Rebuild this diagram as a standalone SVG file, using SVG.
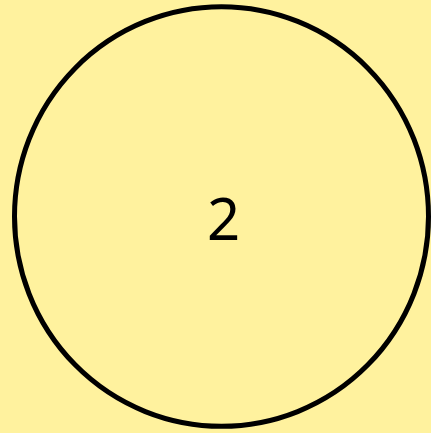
<svg xmlns="http://www.w3.org/2000/svg" width="431" height="433" viewBox="0 0 431 433">
<style>
.node-shape{fill:#fff29e;stroke:#000;stroke-width:5}
.label{font-family:"Noto Sans","Open Sans",sans-serif;font-size:58px;fill:#000;text-anchor:middle}
</style>
<rect width="431" height="433" fill="#fff29e"/>
<g id="node-2">
<ellipse class="node-shape" cx="221.5" cy="216.5" rx="207" ry="209.8"/>
<text class="label" x="223.5" y="240">2</text>
</g>
<g id="connectors"/>
</svg>
